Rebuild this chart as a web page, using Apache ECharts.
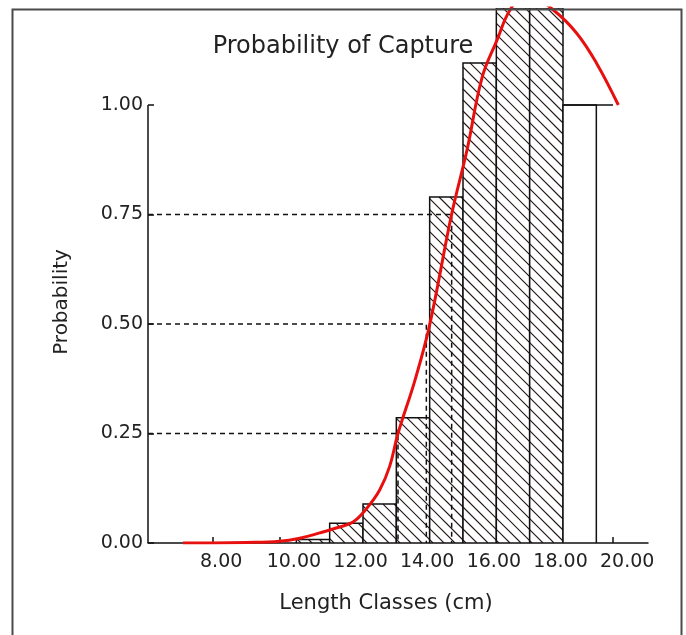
<!DOCTYPE html>
<html>
<head>
<meta charset="utf-8">
<script src="https://cdn.jsdelivr.net/npm/echarts@6/dist/echarts.min.js"></script>
<style>html,body{margin:0;padding:0;background:#fff;}#c{width:686px;height:635px;}</style>
</head>
<body>
<div id="c"></div>
<script>
// ---- data ----
const barCenters = [11, 12, 13, 14, 15, 16, 17, 18, 19];
const barValues  = [0.008, 0.045, 0.089, 0.286, 0.79, 1.096, 1.35, 1.35, 1.0];
const barHatched = [1, 1, 1, 1, 1, 1, 1, 1, 0];

const curveX = [7.1, 8, 9, 10, 10.6, 11.2, 11.6, 12.2, 12.6, 13.0, 13.3, 13.55, 14.06, 14.5, 15.16, 15.62, 16.07, 16.52, 16.91, 17.4, 18.21, 18.91, 19.51, 20.16];
const curveY = [0, 0, 0.001, 0.004, 0.011, 0.023, 0.032, 0.048, 0.078, 0.121, 0.175, 0.25, 0.372, 0.498, 0.751, 0.897, 1.062, 1.148, 1.217, 1.255, 1.217, 1.164, 1.095, 1.0];

const quantiles = [0.25, 0.5, 0.75];
const quantLengths = [13.55, 14.4, 15.16];

const capStep = [[18.5, 1.0], [20.0, 1.0]];

const xTicks = [8, 10, 12, 14, 16, 18, 20];
const yTicks = [0, 0.25, 0.5, 0.75, 1.0];

const xMin = 6.05, xMax = 21.05, yMin = 0, yMax = 1.2215;

// ---- chart ----
const FONT = 'DejaVu Sans';
const TXT = '#222';
const chart = echarts.init(document.getElementById('c'), null, {renderer: 'canvas'});

const barData = barCenters.map((c, i) => [c, barValues[i], barHatched[i]]);
const curveData = curveX.map((x, i) => [x, curveY[i]]);

function renderBar(params, api) {
  const c = api.value(0), v = api.value(1), h = api.value(2);
  const pTop = api.coord([c - 0.5, v]);
  const pBot = api.coord([c + 0.5, 0]);
  const cs = params.coordSys;
  const L = pTop[0], R = pBot[0], B = pBot[1];
  const T = Math.max(pTop[1], cs.y);
  const children = [{
    type: 'rect', shape: {x: L, y: T, width: R - L, height: B - T},
    style: {fill: '#fff', stroke: null}
  }];
  if (h) {
    const S = 11;
    const cStart = Math.ceil((L - B) / S) * S;
    for (let cc = cStart; cc <= R - T; cc += S) {
      const x1 = Math.max(L, T + cc), x2 = Math.min(R, B + cc);
      if (x2 - x1 > 0.5) {
        children.push({type: 'line', shape: {x1: x1, y1: x1 - cc, x2: x2, y2: x2 - cc},
          style: {stroke: '#241616', lineWidth: 1.1}});
      }
    }
  }
  children.push({
    type: 'rect', shape: {x: L, y: T, width: R - L, height: B - T},
    style: {fill: null, stroke: '#111', lineWidth: 1.5}
  });
  return {type: 'group', children: children};
}

const series = [];
series.push({
  type: 'custom', name: 'bars', renderItem: renderBar, data: barData,
  encode: {x: 0, y: 1}, clip: true, z: 1, silent: true
});
series.push({
  type: 'line', data: capStep, symbol: 'none', z: 2, silent: true,
  lineStyle: {color: '#111', width: 1.5}
});
quantiles.forEach((q, i) => {
  series.push({
    type: 'line', symbol: 'none', z: 3, silent: true,
    data: [[xMin, q], [quantLengths[i], q], [quantLengths[i], 0]],
    lineStyle: {color: '#111', width: 1.5, type: [5, 4]}
  });
});
series.push({
  type: 'line', symbol: 'none', z: 4, silent: true,
  data: [[xMin, yTicks[0]], [xMin, yTicks[yTicks.length - 1]]],
  lineStyle: {color: '#111', width: 1.5}
});
series.push({
  type: 'line', symbol: 'none', z: 5, silent: true, smooth: 0.4, clip: true,
  data: curveData,
  lineStyle: {color: '#e8100f', width: 3}
});

chart.setOption({
  animation: false,
  backgroundColor: '#fff',
  title: {
    text: 'Probability of Capture', left: 'center', top: 35, padding: 0,
    textStyle: {fontFamily: FONT, fontSize: 24, fontWeight: 'normal', color: TXT}
  },
  graphic: [
    {type: 'rect', left: 10, top: 7, shape: {width: 669, height: 640},
     style: {fill: null, stroke: '#4a4a4a', lineWidth: 2}, z: 100},
    {type: 'text', x: 62, y: 302, rotation: Math.PI / 2,
     style: {text: 'Probability', fontFamily: FONT, fontSize: 20, fill: TXT,
             align: 'center', verticalAlign: 'middle'}}
  ],
  grid: {left: 148, right: 38, top: 8, bottom: 92, containLabel: false},
  xAxis: {
    type: 'value', min: xMin, max: xMax,
    name: 'Length Classes (cm)', nameLocation: 'middle', nameGap: 50,
    nameTextStyle: {fontFamily: FONT, fontSize: 21, color: TXT, padding: [0, 24, 0, 0]},
    axisLine: {show: true, onZero: false, lineStyle: {color: '#111', width: 1.5}},
    axisTick: {show: true, inside: true, length: 6, customValues: xTicks, lineStyle: {color: '#111', width: 1.5}},
    axisLabel: {customValues: xTicks, formatter: v => v.toFixed(2), align: 'left', padding: [0, 0, 0, -13],
                margin: 10, fontFamily: FONT, fontSize: 19, color: TXT},
    splitLine: {show: false}
  },
  yAxis: {
    type: 'value', min: yMin, max: yMax,
    axisLine: {show: false},
    axisTick: {show: true, inside: true, length: 6, customValues: yTicks, lineStyle: {color: '#111', width: 1.5}},
    axisLabel: {customValues: yTicks, formatter: v => v.toFixed(2), margin: 5,
                fontFamily: FONT, fontSize: 19, color: TXT},
    splitLine: {show: false}
  },
  series: series
});
</script>
</body>
</html>
